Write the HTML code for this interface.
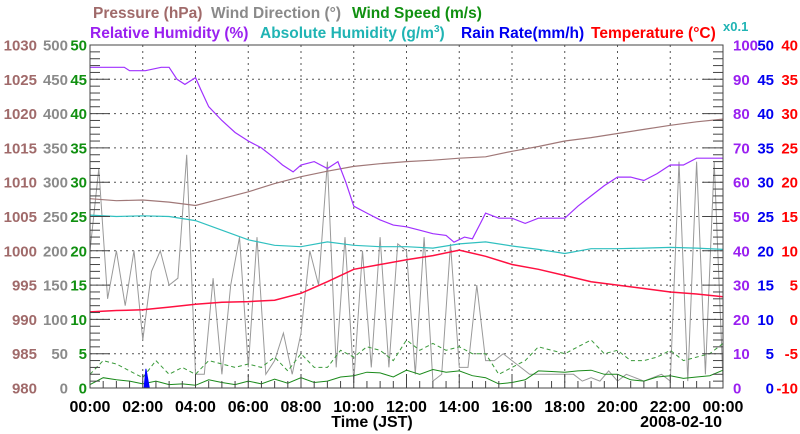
<!DOCTYPE html>
<html><head><meta charset="utf-8"><style>
body{margin:0;background:#fff;}
svg{display:block;font-family:"Liberation Sans",sans-serif;font-weight:bold;}
</style></head><body>
<svg id="c" width="800" height="434" viewBox="0 0 800 434">
<g font-size="15.5">
<text x="93" y="18" fill="#a06a6a">Pressure (hPa)</text>
<text x="211" y="18" fill="#8a8a8a">Wind Direction (°)</text>
<text x="352" y="18" fill="#109010">Wind Speed (m/s)</text>
<text x="90" y="38" fill="#9a20f0">Relative Humidity (%)</text>
<text x="260" y="38" fill="#20b4b4">Absolute Humidity (g/m<tspan font-size="10" dy="-6">3</tspan><tspan dy="6">)</tspan></text>
<text x="461" y="38" fill="#0000f0">Rain Rate(mm/h)</text>
<text x="591" y="38" fill="#ff0000">Temperature (°C)</text>
<text x="723" y="31" fill="#20b4b4" font-size="13">x0.1</text>
</g>
<g id="grid"></g>
<g id="series"></g>
<g id="axes"></g>
<text x="372" y="427" font-size="16" text-anchor="middle">Time (JST)</text>
<text x="722" y="427" font-size="16" text-anchor="end">2008-02-10</text>
</svg>
<script>
// ---- data (time in hours) ----
const xTicks = ["00:00","02:00","04:00","06:00","08:00","10:00","12:00","14:00","16:00","18:00","20:00","22:00","00:00"];
const pressTicks = [980,985,990,995,1000,1005,1010,1015,1020,1025,1030];
const dirTicks = [0,50,100,150,200,250,300,350,400,450,500];
const spdTicks = [0,5,10,15,20,25,30,35,40,45,50];
const rhTicks = [0,10,20,30,40,50,60,70,80,90,100];
const rainTicks = [0,5,10,15,20,25,30,35,40,45,50];
const tempTicks = [-10,-5,0,5,10,15,20,25,30,35,40];

const hourlyTimes = [0,1,2,3,4,5,6,7,8,9,10,11,12,13,14,15,16,17,18,19,20,21,22,23,24];
const pressure = [1007.6,1007.3,1007.4,1007.1,1006.6,1007.6,1008.6,1009.8,1010.8,1011.6,1012.3,1012.7,1013.0,1013.2,1013.5,1013.7,1014.5,1015.2,1016.0,1016.5,1017.1,1017.7,1018.3,1018.8,1019.2];
const absHumidity = [25.2,25.0,25.1,25.0,24.4,23.0,21.6,20.8,20.6,21.3,20.8,20.6,20.6,20.4,21.0,21.3,20.7,20.2,19.6,20.3,20.3,20.4,20.5,20.4,20.2];
const temperature = [1.1,1.3,1.4,1.8,2.2,2.5,2.6,2.8,3.8,5.5,7.3,8.0,8.7,9.3,10.1,9.2,8.0,7.3,6.4,5.5,5.0,4.5,4.0,3.7,3.3];
const rhTimes = [0,1.3,1.5,2.1,2.7,3.0,3.3,3.6,4.0,4.2,4.5,5.0,5.5,6.0,6.5,7.0,7.3,7.7,8.0,8.5,9.0,9.4,9.7,10.0,10.5,11.0,11.5,12.0,12.5,13.0,13.5,13.8,14.2,14.5,14.8,15.0,15.5,16.0,16.5,17.0,17.5,18.0,18.5,19.0,19.5,20.0,20.5,21.0,21.5,22.0,22.5,23.0,24.0];
const relHumidity = [93.5,93.5,92.5,92.5,93.5,93.5,90.0,88.5,90.5,87.0,82.0,78.0,74.5,72.0,70.0,67.0,65.0,63.0,65.0,66.0,64.0,66.0,60.0,53.0,51.0,49.0,47.5,47.0,46.0,45.0,44.5,42.5,44.0,43.5,48.0,51.0,49.5,49.5,48.0,49.5,49.5,49.5,53.0,56.0,59.0,61.5,61.5,60.5,62.5,65.0,65.0,67.0,67.0];
const windDir = [200,320,130,200,120,200,70,170,200,150,160,340,20,20,160,20,150,220,30,220,20,40,80,20,80,200,150,330,30,220,10,200,30,220,30,210,200,20,220,10,20,210,30,30,150,40,40,50,40,30,20,20,20,20,20,20,10,15,10,25,10,20,15,10,15,20,10,330,10,330,20,330,10];
const windAvg = [0.5,1.5,1.2,1.0,0.6,1.0,0.5,0.6,0.4,1.2,0.8,0.5,1.0,0.6,1.3,0.7,1.5,0.8,1.0,1.6,1.8,2.3,2.2,1.6,2.6,2.0,2.7,2.3,2.5,1.8,1.5,0.6,0.8,1.2,2.5,2.4,2.3,2.5,2.6,2.0,2.0,1.2,1.0,1.6,1.8,1.4,1.6,1.8,2.6];
const windGust = [2.0,4.0,3.5,2.5,1.5,4.0,2.0,3.0,2.0,4.0,3.5,3.0,3.5,3.0,4.5,2.5,5.0,3.0,3.0,5.5,4.5,6.0,5.5,4.0,7.0,5.5,6.5,5.5,6.0,5.0,5.0,2.0,3.0,4.0,6.0,5.5,5.0,6.0,7.0,5.0,5.5,4.0,4.0,4.5,5.5,4.0,4.5,5.0,6.5];
const rainTimes = [0,2.05,2.12,2.18,2.25,24];
const rainRate = [0,0,2.8,1.5,0,0];

// ---- geometry ----
const L=90,R=723,T=45,B=388;
const sx=h=>L+(h/24)*(R-L);
const sy=(v,lo,hi)=>B-(v-lo)/(hi-lo)*(B-T);
const NS="http://www.w3.org/2000/svg";
function mk(tag,parent){const e=document.createElementNS(NS,tag);document.getElementById(parent).appendChild(e);return e;}
function lineFrom(times,vals,lo,hi,color,w,dash,name){
  const p=mk("polyline","series");
  p.setAttribute("points",vals.map((v,i)=>sx(times[i]).toFixed(1)+","+sy(v,lo,hi).toFixed(1)).join(" "));
  p.setAttribute("fill","none");p.setAttribute("stroke",color);p.setAttribute("stroke-width",w);
  if(dash)p.setAttribute("stroke-dasharray",dash);
  
  
}
// grid
for(let i=1;i<10;i++){const y=T+i*(B-T)/10;const g=mk("line","grid");g.setAttribute("x1",L);g.setAttribute("x2",R);g.setAttribute("y1",y);g.setAttribute("y2",y);g.setAttribute("stroke","#555");g.setAttribute("stroke-dasharray","2,4");

}
for(let i=1;i<12;i++){const x=sx(i*2);const g=mk("line","grid");g.setAttribute("x1",x);g.setAttribute("x2",x);g.setAttribute("y1",T);g.setAttribute("y2",B);g.setAttribute("stroke","#555");g.setAttribute("stroke-dasharray","2,4");

}
// series
const t20=windDir.map((_,i)=>i/3), t30=windAvg.map((_,i)=>i/2);
lineFrom(t20,windDir,0,500,"#999",1,null,"wind-direction-line");
lineFrom(t30,windGust,0,50,"#3a9a3a",1,"4,3","wind-gust-line");
lineFrom(t30,windAvg,0,50,"#1a8a1a",1,null,"wind-speed-line");
lineFrom(hourlyTimes,pressure,980,1030,"#a07878",1.2,null,"pressure-line");
lineFrom(hourlyTimes,absHumidity,0,50,"#30c0c0",1.2,null,"absolute-humidity-line");
lineFrom(rhTimes,relHumidity,0,100,"#a030ff",1.2,null,"relative-humidity-line");
lineFrom(hourlyTimes,temperature,-10,40,"#ff1040",1.5,null,"temperature-line");
{const p=mk("polygon","series");
p.setAttribute("points",rainRate.map((v,i)=>sx(rainTimes[i]).toFixed(1)+","+sy(v,0,50).toFixed(1)).join(" "));
p.setAttribute("fill","#0000ff");p.setAttribute("stroke","#0000ff");

}
// frame
{const r=mk("rect","axes");r.setAttribute("x",L);r.setAttribute("y",T);r.setAttribute("width",R-L);r.setAttribute("height",B-T);r.setAttribute("fill","none");r.setAttribute("stroke","#444");

}
// ticks
for(let i=0;i<=50;i++){const y=T+i*(B-T)/50;const len=i%5==0?20:10;
 [[L,L+len],[R-len,R]].forEach(([a,b])=>{const t=mk("line","axes");t.setAttribute("x1",a);t.setAttribute("x2",b);t.setAttribute("y1",y);t.setAttribute("y2",y);t.setAttribute("stroke","#444");
 
 });}
for(let i=0;i<=48;i++){const x=sx(i/2);const len=i%4==0?14:7;const t=mk("line","axes");t.setAttribute("x1",x);t.setAttribute("x2",x);t.setAttribute("y1",B-len);t.setAttribute("y2",B);t.setAttribute("stroke","#444");
 
 }
function labels(arr,x,anchor,color,name,lo,hi){
 arr.forEach(v=>{const t=mk("text","axes");t.setAttribute("x",x);t.setAttribute("y",sy(v,lo,hi)+5.5);t.setAttribute("text-anchor",anchor);t.setAttribute("fill",color);t.setAttribute("font-size","15");t.textContent=v;
 
 });}
labels(pressTicks,37,"end","#a06a6a","pressure-tick-label",980,1030);
labels(dirTicks,68,"end","#8a8a8a","wind-direction-tick-label",0,500);
labels(spdTicks,87,"end","#109010","wind-speed-tick-label",0,50);
labels(rhTicks,733,"start","#9a20f0","rh-tick-label",0,100);
labels(rainTicks,774,"end","#0000f0","rain-tick-label",0,50);
labels(tempTicks,798,"end","#ff0000","temperature-tick-label",-10,40);
xTicks.forEach((s,i)=>{const t=mk("text","axes");t.setAttribute("x",sx(i*2));t.setAttribute("y",412);t.setAttribute("text-anchor","middle");t.setAttribute("font-size","16");t.textContent=s;
 
 });
</script>
</body></html>
